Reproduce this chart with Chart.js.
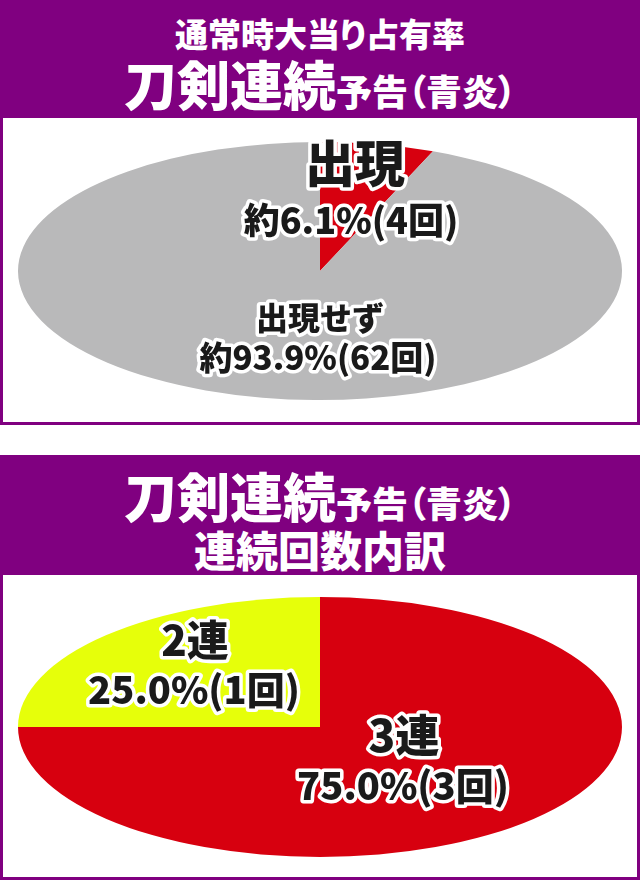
<!DOCTYPE html>
<html lang="ja">
<head>
<meta charset="utf-8">
<script src="https://cdn.jsdelivr.net/npm/chart.js@4.4.1/dist/chart.umd.min.js"></script>
<style>
  html, body { margin: 0; padding: 0; background: #fff; }
  body { width: 640px; height: 883px; position: relative; overflow: hidden;
         font-family: "Noto Sans CJK JP", sans-serif; }
  .head { position: absolute; left: 0; width: 640px; background: #800080; color: #fff;
          text-align: center; font-weight: 900; font-feature-settings: "palt"; }
  .line { position: absolute; left: 0; width: 640px; line-height: 1; white-space: nowrap; }
  .box { position: absolute; left: 0; width: 640px; box-sizing: border-box;
         border: 3px solid #800080; border-top: none; background: #fff; }
  .wrap { position: relative; width: 634px; }
</style>
</head>
<body>
  <div class="head" style="top:0;height:118px;">
    <div class="line" style="top:17px;font-size:33px;">通常時大当り占有率</div>
    <div class="line" style="top:57px;"><span style="font-size:53px;">刀剣連続</span><span style="font-size:36px;">予告（青炎）</span></div>
  </div>
  <div class="box" style="top:118px;height:307px;">
    <div class="wrap" style="height:304px;"><canvas id="chart1"></canvas></div>
  </div>

  <div class="head" style="top:455px;height:120px;">
    <div class="line" style="top:14px;"><span style="font-size:53px;">刀剣連続</span><span style="font-size:36px;">予告（青炎）</span></div>
    <div class="line" style="top:528px;margin-top:-455px;font-size:42px;">連続回数内訳</div>
  </div>
  <div class="box" style="top:575px;height:305px;">
    <div class="wrap" style="height:302px;"><canvas id="chart2"></canvas></div>
  </div>

<script>
  // chart 1: 出現 vs 出現せず
  const categories1 = ['出現', '出現せず'];
  const percents1 = [6.1, 93.9];
  const counts1 = [4, 62];

  // chart 2: 3連 vs 2連
  const categories2 = ['3連', '2連'];
  const percents2 = [75.0, 25.0];
  const counts2 = [3, 1];

  const RED = '#d7000f';
  const GRAY = '#b9b9ba';
  const YELLOW = '#e6ff0a';

  // stretch the pie horizontally into an ellipse
  const ellipse = {
    id: 'ellipse',
    beforeDatasetsDraw(chart, args, opts) {
      const arc = chart.getDatasetMeta(0).data[0];
      const ctx = chart.ctx;
      ctx.save();
      ctx.translate(arc.x, arc.y);
      ctx.scale(opts.rx / arc.outerRadius, 1);
      ctx.translate(-arc.x, -arc.y);
    },
    afterDatasetsDraw(chart) {
      chart.ctx.restore();
    }
  };

  // outlined labels placed relative to the pie centre
  const outlinedLabels = {
    id: 'outlinedLabels',
    afterDraw(chart, args, opts) {
      const arc = chart.getDatasetMeta(0).data[0];
      const ctx = chart.ctx;
      ctx.save();
      ctx.textAlign = 'center';
      ctx.textBaseline = 'middle';
      ctx.lineJoin = 'round';
      opts.items.forEach(it => {
        ctx.font = '900 ' + it.size + 'px "Noto Sans CJK JP"';
        const x = arc.x + it.dx, y = arc.y + it.dy;
        ctx.strokeStyle = '#fff';
        ctx.lineWidth = 7;
        ctx.strokeText(it.text, x, y);
        ctx.fillStyle = '#1a1a1a';
        ctx.fillText(it.text, x, y);
      });
      ctx.restore();
    }
  };

  function makePie(id, cats, values, colors, pad, items) {
    return new Chart(document.getElementById(id), {
      type: 'pie',
      data: {
        labels: cats,
        datasets: [{ data: values, backgroundColor: colors, borderWidth: 0 }]
      },
      options: {
        responsive: true,
        maintainAspectRatio: false,
        animation: false,
        events: [],
        layout: { padding: pad },
        plugins: {
          legend: { display: false },
          tooltip: { enabled: false },
          ellipse: { rx: 302 },
          outlinedLabels: { items: items }
        }
      },
      plugins: [ellipse, outlinedLabels]
    });
  }

  const label = (i, pcts, cnts, pre) => pre + pcts[i].toFixed(1) + '%(' + cnts[i] + '回)';

  makePie('chart1', categories1, percents1, [RED, GRAY],
    { top: 24, bottom: 22 },
    [
      { text: categories1[0], size: 50, dx: 35, dy: -108 },
      { text: label(0, percents1, counts1, '約'), size: 36, dx: 31, dy: -51 },
      { text: categories1[1], size: 32, dx: 0, dy: 47 },
      { text: label(1, percents1, counts1, '約'), size: 33, dx: -2, dy: 86 }
    ]);

  makePie('chart2', categories2, percents2, [RED, YELLOW],
    { top: 22, bottom: 20 },
    [
      { text: categories2[1], size: 42, dx: -125, dy: -87 },
      { text: label(1, percents2, counts2, ''), size: 38, dx: -126, dy: -37 },
      { text: categories2[0], size: 44, dx: 84, dy: 8 },
      { text: label(0, percents2, counts2, ''), size: 38, dx: 83, dy: 59 }
    ]);
</script>
</body>
</html>
